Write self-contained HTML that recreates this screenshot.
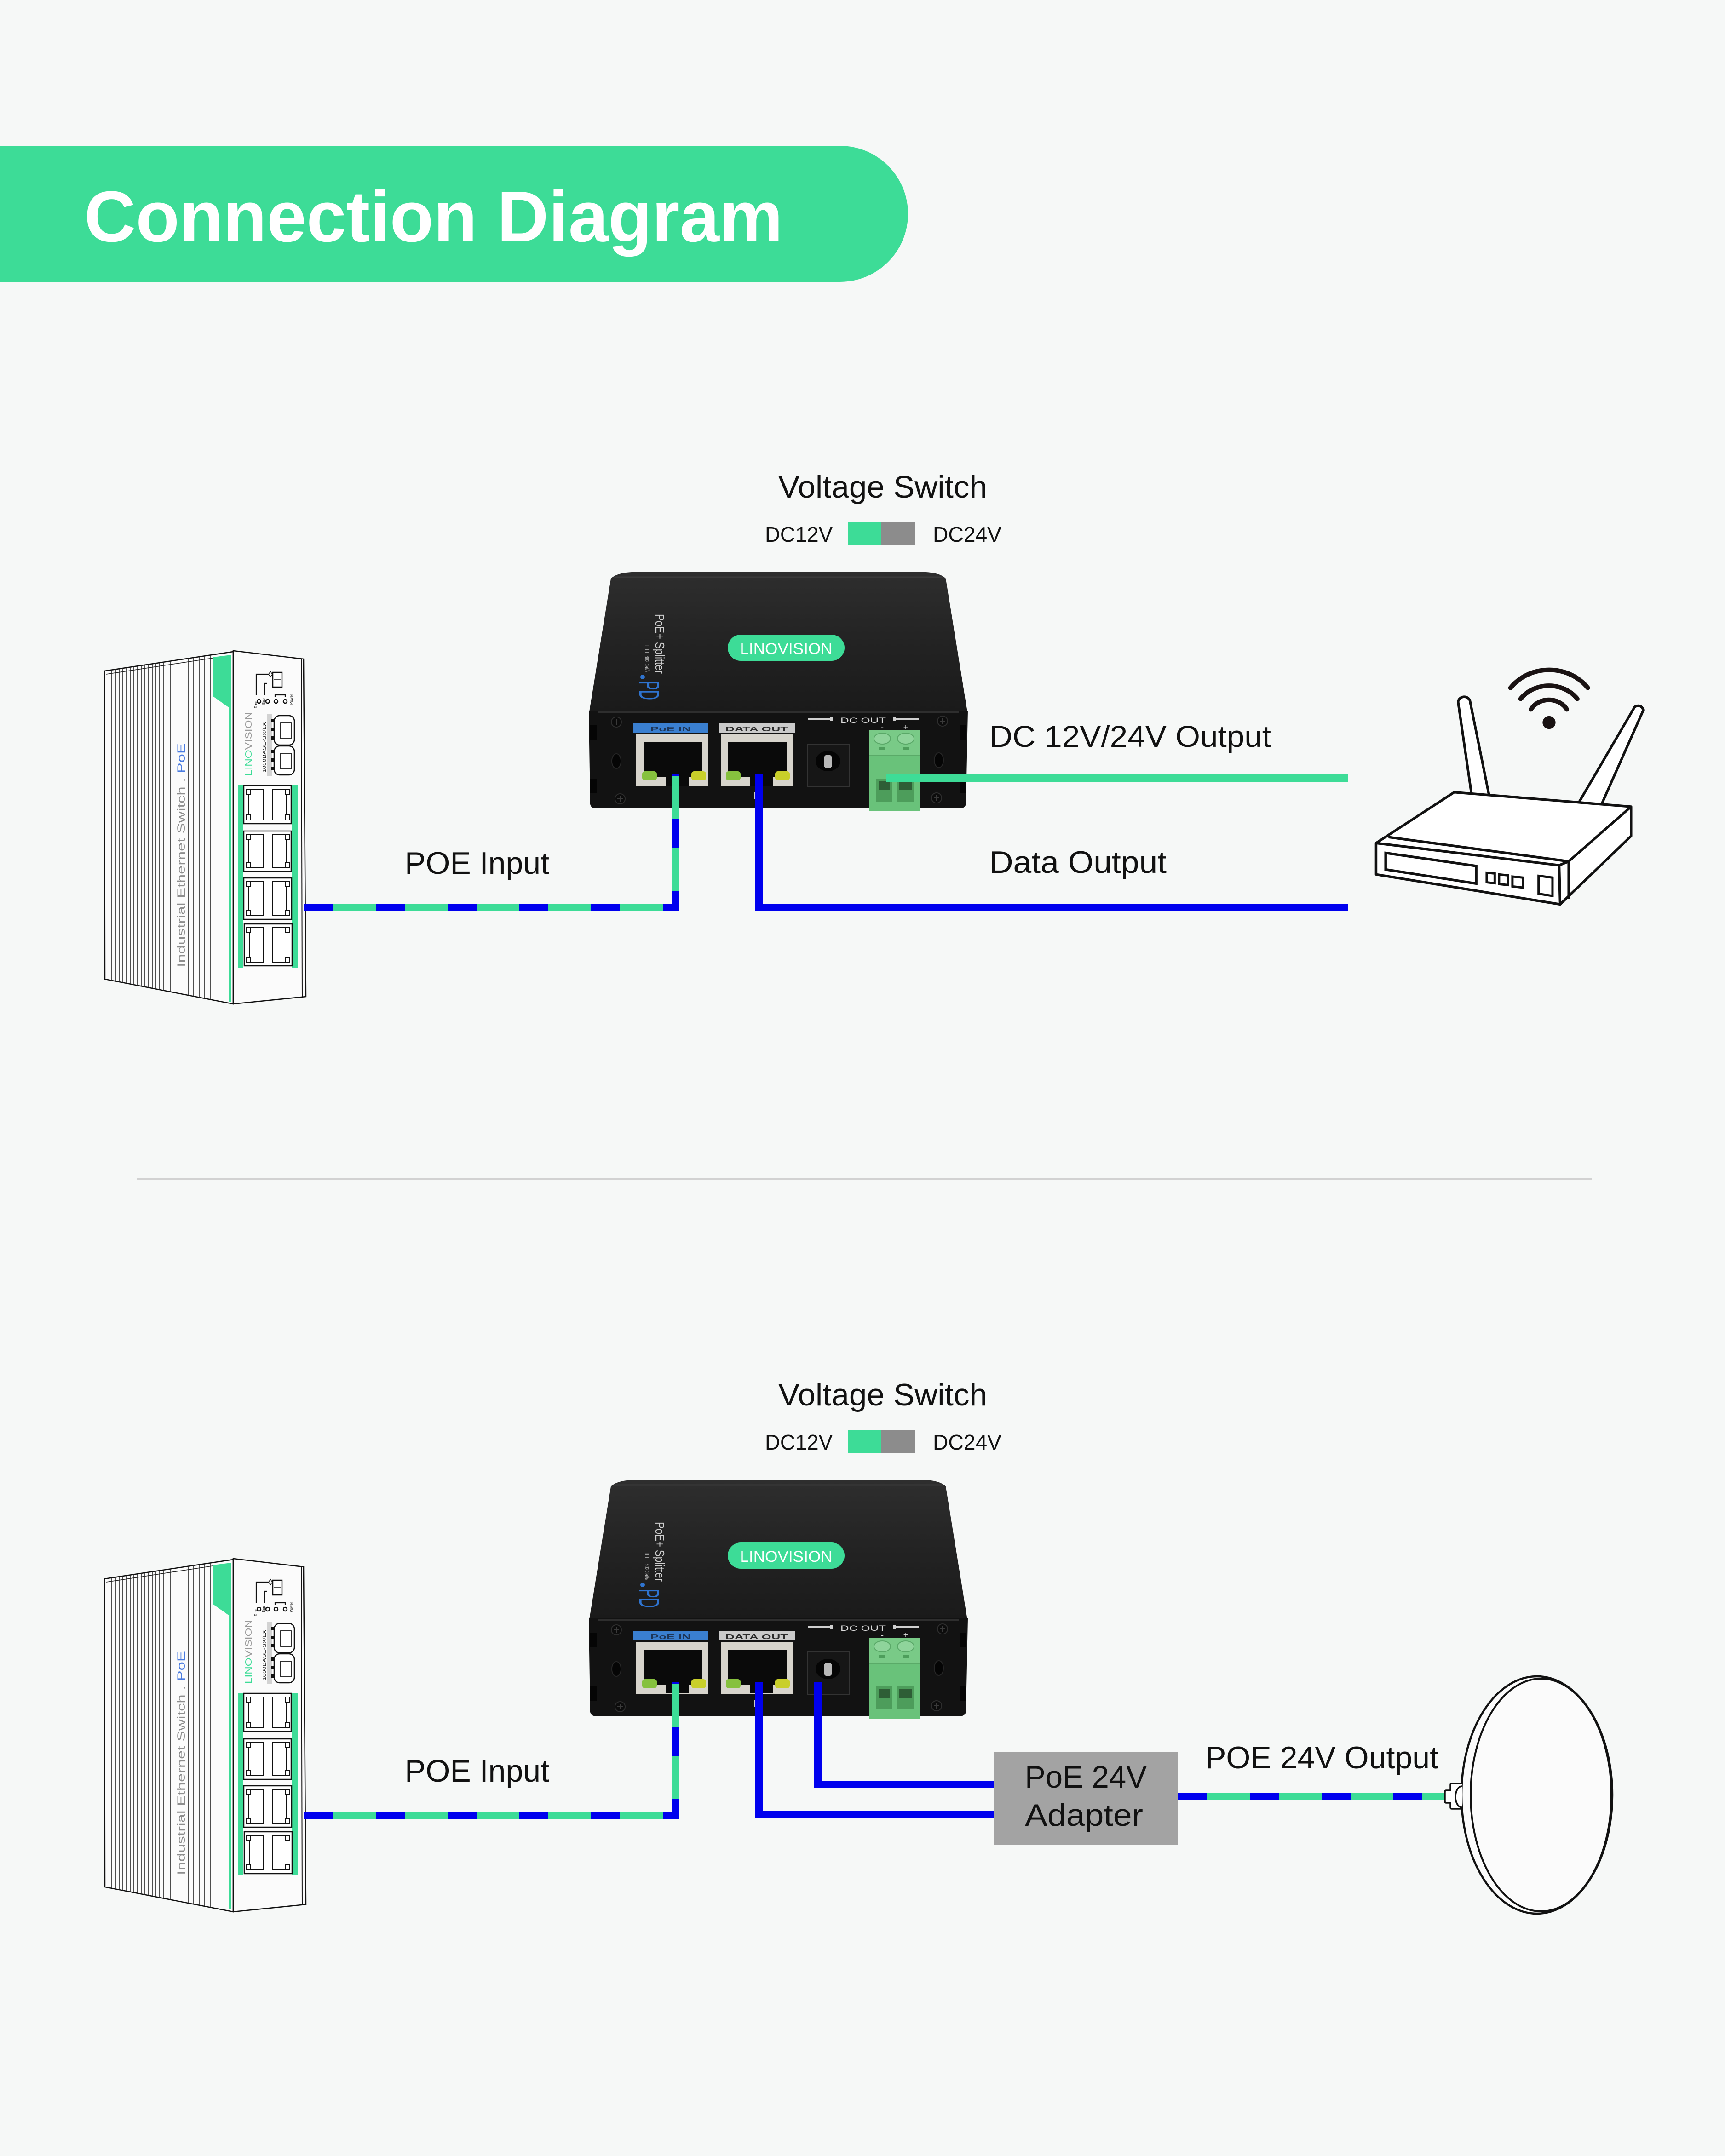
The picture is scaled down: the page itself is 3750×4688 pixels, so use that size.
<!DOCTYPE html>
<html><head><meta charset="utf-8"><style>
html,body{margin:0;padding:0;background:#f6f8f7;}
svg{display:block;}
text{font-family:"Liberation Sans",sans-serif;}
</style></head><body>
<svg width="3750" height="4688" viewBox="0 0 3750 4688" xmlns="http://www.w3.org/2000/svg">
<defs>
<linearGradient id="topg" x1="0" y1="0" x2="0" y2="1">
<stop offset="0" stop-color="#2e2e2e"/><stop offset="0.5" stop-color="#232323"/><stop offset="1" stop-color="#1a1a1a"/>
</linearGradient>
<clipPath id="lp"><polygon points="227,1459 507,1417 507,2183 228,2129"/></clipPath>
</defs>
<rect width="3750" height="4688" fill="#f6f8f7"/>

<!-- Header banner -->
<path d="M0,317 H1826 A148,148 0 0 1 1826,613 H0 Z" fill="#3ddc97"/>
<text x="183" y="525" font-size="157" font-weight="bold" fill="#ffffff" textLength="1519" lengthAdjust="spacingAndGlyphs">Connection Diagram</text>

<!-- Separator -->
<rect x="298" y="2562" width="3162" height="3" fill="#d2d2d2"/>

<!-- ================= COMMON BLOCK (upper) ================= -->
<g id="upper">
<!-- Voltage switch -->
<text x="1692" y="1082" font-size="68" fill="#111" textLength="454" lengthAdjust="spacingAndGlyphs">Voltage Switch</text>
<text x="1663" y="1178" font-size="46" fill="#111" textLength="147" lengthAdjust="spacingAndGlyphs">DC12V</text>
<rect x="1843" y="1136" width="73" height="50" fill="#3ddc97"/>
<rect x="1916" y="1136" width="73" height="50" fill="#8c8c8c"/>
<text x="2028" y="1178" font-size="46" fill="#111" textLength="149" lengthAdjust="spacingAndGlyphs">DC24V</text>

<!-- Switch -->
<polygon points="227,1459 507,1417 507,2183 228,2129" fill="#fbfbfb" stroke="#111" stroke-width="2.5"/>
<g clip-path="url(#lp)" stroke="#222" stroke-width="1.6" fill="none">
<path d="M243 1400V2200M251 1400V2200M259 1400V2200M267 1400V2200M275 1400V2200M283 1400V2200M291 1400V2200M299 1400V2200M307 1400V2200M315 1400V2200M323 1400V2200M331 1400V2200M339 1400V2200M347 1400V2200M355 1400V2200M363 1400V2200M371 1400V2200M409 1400V2200M421 1400V2200M433 1400V2200M445 1400V2200M457 1400V2200"/>
</g>
<line x1="231" y1="1466" x2="462" y2="1431" stroke="#222" stroke-width="1.6"/>
<polygon points="463,1429 503,1424 503,2178 498,2178 497,1538 463,1514" fill="#3ddc97"/>
<text transform="translate(402,2103) rotate(-90)" font-size="24" fill="#8d8d8d" textLength="487" lengthAdjust="spacingAndGlyphs">Industrial Ethernet Switch . <tspan fill="#4a7be0">PoE</tspan></text>
<polygon points="507,1415 660,1433 665,2167 507,2183" fill="#fbfbfb" stroke="#111" stroke-width="2.5"/>
<line x1="513" y1="1420" x2="513" y2="2180" stroke="#111" stroke-width="2"/>
<line x1="655" y1="1433" x2="657" y2="2167" stroke="#111" stroke-width="2"/>
<!-- indicators -->
<path d="M557,1512 V1466 H585 M575,1512 V1486 H581 M598,1515 V1511 H620 V1515" fill="none" stroke="#111" stroke-width="2.2"/>
<path d="M588,1460 L592,1466 L588,1472 L584,1466 Z" fill="#fff" stroke="#111" stroke-width="1.5"/>
<rect x="593" y="1462" width="20" height="32" fill="#fff" stroke="#111" stroke-width="2.5"/>
<line x1="595" y1="1478" x2="611" y2="1478" stroke="#111" stroke-width="1.5"/>
<circle cx="563" cy="1525" r="4" fill="none" stroke="#111" stroke-width="2.5"/>
<circle cx="582" cy="1525" r="4" fill="none" stroke="#111" stroke-width="2.5"/>
<circle cx="600" cy="1525" r="4" fill="none" stroke="#111" stroke-width="2.5"/>
<circle cx="620" cy="1525" r="4" fill="none" stroke="#111" stroke-width="2.5"/>
<text transform="translate(559,1540) rotate(-90)" font-size="8" fill="#111">Ring</text>
<text transform="translate(576,1532) rotate(-90)" font-size="8" fill="#111">Bsp</text>
<text transform="translate(636,1532) rotate(-90)" font-size="8" fill="#111">Power</text>
<text transform="translate(547,1687) rotate(-90)" font-size="20" fill="#9a9a9a" textLength="139" lengthAdjust="spacingAndGlyphs"><tspan fill="#3ddc97">LINO</tspan>VISION</text>
<rect x="580" y="1552" width="12" height="135" fill="#d3d3d3"/>
<text transform="translate(578,1680) rotate(-90)" font-size="10" fill="#111" textLength="110" lengthAdjust="spacingAndGlyphs">1000BASE-SX/LX</text>
<rect x="596" y="1556" width="44" height="64" rx="12" fill="#fff" stroke="#111" stroke-width="2.5"/>
<path d="M610,1572 H633 V1606 H610 Z" fill="none" stroke="#111" stroke-width="1.8"/>
<rect x="596" y="1622" width="44" height="63" rx="12" fill="#fff" stroke="#111" stroke-width="2.5"/>
<path d="M610,1638 H633 V1672 H610 Z" fill="none" stroke="#111" stroke-width="1.8"/>
<rect x="590" y="1564" width="6" height="7" fill="#111"/><rect x="590" y="1583" width="6" height="7" fill="#111"/><rect x="590" y="1601" width="6" height="7" fill="#111"/>
<rect x="590" y="1630" width="6" height="7" fill="#111"/><rect x="590" y="1649" width="6" height="7" fill="#111"/><rect x="590" y="1667" width="6" height="7" fill="#111"/>
<!-- port strips -->
<rect x="517" y="1707" width="11" height="397" fill="#3ddc97"/>
<rect x="635" y="1707" width="12" height="397" fill="#3ddc97"/>
<!-- port blocks -->
<g fill="#fff" stroke="#111">
<rect x="530" y="1708" width="103" height="83" stroke-width="2.5"/>
<rect x="530" y="1807" width="103" height="88" stroke-width="2.5"/>
<rect x="530" y="1909" width="104" height="90" stroke-width="2.5"/>
<rect x="531" y="2009" width="104" height="91" stroke-width="2.5"/>
</g>
<g fill="none" stroke="#111" stroke-width="2">
<rect x="541" y="1716" width="31" height="67"/><rect x="592" y="1716" width="31" height="67"/>
<rect x="541" y="1815" width="31" height="72"/><rect x="592" y="1815" width="31" height="72"/>
<rect x="541" y="1917" width="31" height="74"/><rect x="592" y="1917" width="31" height="74"/>
<rect x="542" y="2017" width="31" height="75"/><rect x="593" y="2017" width="31" height="75"/>
</g>
<g fill="#fff" stroke="#111" stroke-width="2">
<rect x="535" y="1716" width="9" height="11"/><rect x="535" y="1772" width="9" height="11"/><rect x="620" y="1716" width="9" height="11"/><rect x="620" y="1772" width="9" height="11"/>
<rect x="535" y="1815" width="9" height="11"/><rect x="535" y="1876" width="9" height="11"/><rect x="620" y="1815" width="9" height="11"/><rect x="620" y="1876" width="9" height="11"/>
<rect x="535" y="1917" width="9" height="11"/><rect x="535" y="1980" width="9" height="11"/><rect x="620" y="1917" width="9" height="11"/><rect x="620" y="1980" width="9" height="11"/>
<rect x="536" y="2017" width="9" height="11"/><rect x="536" y="2081" width="9" height="11"/><rect x="621" y="2017" width="9" height="11"/><rect x="621" y="2081" width="9" height="11"/>
</g>

<!-- Splitter device -->
<path d="M1373,1244 L2013,1244 Q2045,1246 2056,1258 L2103,1548 L1281,1548 L1328,1258 Q1340,1246 1373,1244 Z" fill="url(#topg)"/>
<path d="M1335,1255 L2050,1255" stroke="#3a3a3a" stroke-width="3"/>
<path d="M1280,1545 L2104,1545 L2100,1748 Q2098,1758 2085,1758 L1298,1758 Q1284,1758 1283,1748 Z" fill="#121212"/>
<rect x="1300" y="1547" width="784" height="4" fill="#2e2e2e"/>
<rect x="1283" y="1576" width="14" height="32" fill="#050505"/>
<rect x="1283" y="1693" width="14" height="32" fill="#050505"/>
<rect x="2086" y="1576" width="14" height="32" fill="#050505"/>
<rect x="2086" y="1693" width="14" height="32" fill="#050505"/>
<rect x="1582" y="1380" width="254" height="57" rx="28.5" fill="#3ddc97"/>
<text x="1709" y="1422" font-size="34" fill="#ffffff" text-anchor="middle" textLength="201" lengthAdjust="spacingAndGlyphs">LINOVISION</text>
<text transform="translate(1425,1335) rotate(90)" font-size="28" fill="#cfcfcf" textLength="130" lengthAdjust="spacingAndGlyphs">PoE+ Splitter</text>
<text transform="translate(1402,1403) rotate(90)" font-size="13" fill="#bdbdbd" textLength="62" lengthAdjust="spacingAndGlyphs">IEEE 802.3af/at</text>
<circle cx="1397" cy="1472" r="5" fill="#2f74d0"/>
<text transform="translate(1390,1481) rotate(90)" font-size="62" fill="#2f74d0" textLength="41" lengthAdjust="spacingAndGlyphs">PD</text>
<!-- screws and holes -->
<g fill="#0c0c0c" stroke="#2e2e2e" stroke-width="2">
<circle cx="1340" cy="1570" r="11"/><circle cx="2049" cy="1568" r="11"/><circle cx="1348" cy="1737" r="11"/><circle cx="2036" cy="1735" r="11"/>
</g>
<path d="M1334,1570h12M1340,1564v12M2043,1568h12M2049,1562v12M1342,1737h12M1348,1731v12M2030,1735h12M2036,1729v12" stroke="#3a3a3a" stroke-width="2"/>
<ellipse cx="1340" cy="1655" rx="10" ry="16" fill="#050505" stroke="#262626" stroke-width="2"/>
<ellipse cx="2041" cy="1653" rx="10" ry="16" fill="#050505" stroke="#262626" stroke-width="2"/>
<!-- labels -->
<rect x="1376" y="1573" width="164" height="20" fill="#3a7fd0"/>
<text x="1458" y="1590" font-size="15" font-weight="bold" fill="#1d3557" text-anchor="middle" textLength="88" lengthAdjust="spacingAndGlyphs">PoE IN</text>
<rect x="1563" y="1573" width="165" height="20" fill="#cacaca"/>
<text x="1645" y="1590" font-size="15" font-weight="bold" fill="#2a2a2a" text-anchor="middle" textLength="136" lengthAdjust="spacingAndGlyphs">DATA OUT</text>
<!-- ports -->
<rect x="1382" y="1596" width="158" height="114" fill="#d7d4cc"/>
<rect x="1399" y="1613" width="128" height="77" fill="#0a0a0a"/>
<rect x="1447" y="1680" width="50" height="28" fill="#0a0a0a"/>
<rect x="1396" y="1677" width="32" height="20" rx="6" fill="#86c13e"/>
<rect x="1503" y="1677" width="32" height="20" rx="6" fill="#c9cf2a"/>
<rect x="1567" y="1596" width="158" height="114" fill="#d7d4cc"/>
<rect x="1583" y="1613" width="128" height="77" fill="#0a0a0a"/>
<rect x="1630" y="1680" width="50" height="28" fill="#0a0a0a"/>
<rect x="1578" y="1677" width="32" height="20" rx="6" fill="#86c13e"/>
<rect x="1685" y="1677" width="32" height="20" rx="6" fill="#c9cf2a"/>
<rect x="1639" y="1722" width="12" height="16" fill="#cfcfcf"/>
<!-- DC jack -->
<rect x="1755" y="1618" width="91" height="92" fill="#161616" stroke="#333" stroke-width="2"/>
<ellipse cx="1800" cy="1655" rx="27" ry="22" fill="#050505"/>
<rect x="1791" y="1641" width="18" height="30" rx="8" fill="#b8b8b8"/>
<!-- DC OUT -->
<text x="1827" y="1572" font-size="17" fill="#dcdcdc" textLength="99" lengthAdjust="spacingAndGlyphs">DC OUT</text>
<rect x="1757" y="1562" width="50" height="3" fill="#cfcfcf"/><rect x="1804" y="1559" width="6" height="9" fill="#cfcfcf"/>
<rect x="1942" y="1559" width="6" height="9" fill="#cfcfcf"/><rect x="1946" y="1562" width="52" height="3" fill="#cfcfcf"/>
<text x="1918" y="1587" font-size="18" fill="#dcdcdc" text-anchor="middle">-</text>
<text x="1969" y="1587" font-size="18" fill="#dcdcdc" text-anchor="middle">+</text>
<!-- terminal block -->
<rect x="1890" y="1588" width="110" height="175" fill="#69c27a"/>
<rect x="1890" y="1588" width="110" height="55" fill="#79ca87"/>
<line x1="1890" y1="1643" x2="2000" y2="1643" stroke="#5aaa68" stroke-width="2"/>
<ellipse cx="1918" cy="1606" rx="18" ry="12" fill="#8fd49b" stroke="#5aa868" stroke-width="2"/>
<ellipse cx="1969" cy="1606" rx="18" ry="12" fill="#8fd49b" stroke="#5aa868" stroke-width="2"/>
<rect x="1911" y="1625" width="14" height="6" fill="#4e9e5c"/><rect x="1962" y="1625" width="14" height="6" fill="#4e9e5c"/>
<rect x="1905" y="1693" width="35" height="50" fill="#4d9d5b"/><rect x="1950" y="1693" width="38" height="50" fill="#4d9d5b"/>
<rect x="1910" y="1698" width="25" height="20" fill="#2e5e36"/><rect x="1955" y="1698" width="28" height="20" fill="#2e5e36"/>

<!-- POE input line -->
<path d="M661,1973 H1468 V1683" stroke="#3ddc97" stroke-width="16" fill="none"/>
<path d="M661,1973 H1468 V1683" stroke="#0000ee" stroke-width="16" fill="none" stroke-dasharray="63 93"/>
<text x="880" y="1900" font-size="68" fill="#111" textLength="314" lengthAdjust="spacingAndGlyphs">POE Input</text>
</g>

<!-- ================= Upper specific ================= -->
<path d="M1650,1683 V1973 H2931" stroke="#0000ee" stroke-width="16" fill="none"/>
<path d="M1926,1692 H2931" stroke="#3ddc97" stroke-width="16" fill="none"/>
<text x="2151" y="1624" font-size="66" fill="#111" textLength="612" lengthAdjust="spacingAndGlyphs">DC 12V/24V Output</text>
<text x="2151" y="1898" font-size="68" fill="#111" textLength="385" lengthAdjust="spacingAndGlyphs">Data Output</text>

<!-- Router -->
<g transform="translate(2950 1400) scale(0.41459 0.38270)" fill="none" stroke="#111">
<path d="M600,850 L530,330 A32,32 0 0 1 592,322 L692,858" fill="#fff" stroke-width="5.5" vector-effect="non-scaling-stroke"/>
<path d="M1165,898 L1455,360 A26,26 0 0 1 1500,380 L1285,905" fill="#fff" stroke-width="5.5" vector-effect="non-scaling-stroke"/>
<path d="M100,1132 L510,843 L1437,925 L1437,1092 L1065,1480 L100,1310 Z" fill="#fff" stroke-width="5.5" vector-effect="non-scaling-stroke" stroke-linejoin="round"/>
<path d="M165,1098 L1110,1236 L1437,925 M100,1132 L1060,1258 L1110,1236 M1060,1258 L1065,1480 M1110,1236 L1110,1450" stroke-width="5.5" vector-effect="non-scaling-stroke"/>
<path d="M150,1188 L625,1262 L625,1362 L150,1282 Z" stroke-width="5.5" vector-effect="non-scaling-stroke"/>
<path d="M680,1300 L722,1305 L722,1360 L680,1355 Z M745,1310 L790,1315 L790,1370 L745,1365 Z M815,1322 L870,1328 L870,1385 L815,1378 Z M952,1318 L1025,1328 L1025,1432 L952,1420 Z" stroke-width="5" vector-effect="non-scaling-stroke"/>
<path d="M912,372 A109,109 0 0 1 1100,372 M858,312 A186,186 0 0 1 1155,312 M805,250 A252,252 0 0 1 1210,250" stroke="#1a1313" stroke-width="10" stroke-linecap="round" vector-effect="non-scaling-stroke"/>
<ellipse cx="1007" cy="447" rx="34" ry="37" fill="#1a1313" stroke="none"/>
</g>

<!-- ================= Lower section ================= -->
<g transform="translate(0,1974)">
<text x="1692" y="1082" font-size="68" fill="#111" textLength="454" lengthAdjust="spacingAndGlyphs">Voltage Switch</text>
<text x="1663" y="1178" font-size="46" fill="#111" textLength="147" lengthAdjust="spacingAndGlyphs">DC12V</text>
<rect x="1843" y="1136" width="73" height="50" fill="#3ddc97"/>
<rect x="1916" y="1136" width="73" height="50" fill="#8c8c8c"/>
<text x="2028" y="1178" font-size="46" fill="#111" textLength="149" lengthAdjust="spacingAndGlyphs">DC24V</text>

<polygon points="227,1459 507,1417 507,2183 228,2129" fill="#fbfbfb" stroke="#111" stroke-width="2.5"/>
<g clip-path="url(#lp)" stroke="#222" stroke-width="1.6" fill="none">
<path d="M243 1400V2200M251 1400V2200M259 1400V2200M267 1400V2200M275 1400V2200M283 1400V2200M291 1400V2200M299 1400V2200M307 1400V2200M315 1400V2200M323 1400V2200M331 1400V2200M339 1400V2200M347 1400V2200M355 1400V2200M363 1400V2200M371 1400V2200M409 1400V2200M421 1400V2200M433 1400V2200M445 1400V2200M457 1400V2200"/>
</g>
<line x1="231" y1="1466" x2="462" y2="1431" stroke="#222" stroke-width="1.6"/>
<polygon points="463,1429 503,1424 503,2178 498,2178 497,1538 463,1514" fill="#3ddc97"/>
<text transform="translate(402,2103) rotate(-90)" font-size="24" fill="#8d8d8d" textLength="487" lengthAdjust="spacingAndGlyphs">Industrial Ethernet Switch . <tspan fill="#4a7be0">PoE</tspan></text>
<polygon points="507,1415 660,1433 665,2167 507,2183" fill="#fbfbfb" stroke="#111" stroke-width="2.5"/>
<line x1="513" y1="1420" x2="513" y2="2180" stroke="#111" stroke-width="2"/>
<line x1="655" y1="1433" x2="657" y2="2167" stroke="#111" stroke-width="2"/>
<path d="M557,1512 V1466 H585 M575,1512 V1486 H581 M598,1515 V1511 H620 V1515" fill="none" stroke="#111" stroke-width="2.2"/>
<path d="M588,1460 L592,1466 L588,1472 L584,1466 Z" fill="#fff" stroke="#111" stroke-width="1.5"/>
<rect x="593" y="1462" width="20" height="32" fill="#fff" stroke="#111" stroke-width="2.5"/>
<line x1="595" y1="1478" x2="611" y2="1478" stroke="#111" stroke-width="1.5"/>
<circle cx="563" cy="1525" r="4" fill="none" stroke="#111" stroke-width="2.5"/>
<circle cx="582" cy="1525" r="4" fill="none" stroke="#111" stroke-width="2.5"/>
<circle cx="600" cy="1525" r="4" fill="none" stroke="#111" stroke-width="2.5"/>
<circle cx="620" cy="1525" r="4" fill="none" stroke="#111" stroke-width="2.5"/>
<text transform="translate(559,1540) rotate(-90)" font-size="8" fill="#111">Ring</text>
<text transform="translate(576,1532) rotate(-90)" font-size="8" fill="#111">Bsp</text>
<text transform="translate(636,1532) rotate(-90)" font-size="8" fill="#111">Power</text>
<text transform="translate(547,1687) rotate(-90)" font-size="20" fill="#9a9a9a" textLength="139" lengthAdjust="spacingAndGlyphs"><tspan fill="#3ddc97">LINO</tspan>VISION</text>
<rect x="580" y="1552" width="12" height="135" fill="#d3d3d3"/>
<text transform="translate(578,1680) rotate(-90)" font-size="10" fill="#111" textLength="110" lengthAdjust="spacingAndGlyphs">1000BASE-SX/LX</text>
<rect x="596" y="1556" width="44" height="64" rx="12" fill="#fff" stroke="#111" stroke-width="2.5"/>
<path d="M610,1572 H633 V1606 H610 Z" fill="none" stroke="#111" stroke-width="1.8"/>
<rect x="596" y="1622" width="44" height="63" rx="12" fill="#fff" stroke="#111" stroke-width="2.5"/>
<path d="M610,1638 H633 V1672 H610 Z" fill="none" stroke="#111" stroke-width="1.8"/>
<rect x="590" y="1564" width="6" height="7" fill="#111"/><rect x="590" y="1583" width="6" height="7" fill="#111"/><rect x="590" y="1601" width="6" height="7" fill="#111"/>
<rect x="590" y="1630" width="6" height="7" fill="#111"/><rect x="590" y="1649" width="6" height="7" fill="#111"/><rect x="590" y="1667" width="6" height="7" fill="#111"/>
<rect x="517" y="1707" width="11" height="397" fill="#3ddc97"/>
<rect x="635" y="1707" width="12" height="397" fill="#3ddc97"/>
<g fill="#fff" stroke="#111">
<rect x="530" y="1708" width="103" height="83" stroke-width="2.5"/>
<rect x="530" y="1807" width="103" height="88" stroke-width="2.5"/>
<rect x="530" y="1909" width="104" height="90" stroke-width="2.5"/>
<rect x="531" y="2009" width="104" height="91" stroke-width="2.5"/>
</g>
<g fill="none" stroke="#111" stroke-width="2">
<rect x="541" y="1716" width="31" height="67"/><rect x="592" y="1716" width="31" height="67"/>
<rect x="541" y="1815" width="31" height="72"/><rect x="592" y="1815" width="31" height="72"/>
<rect x="541" y="1917" width="31" height="74"/><rect x="592" y="1917" width="31" height="74"/>
<rect x="542" y="2017" width="31" height="75"/><rect x="593" y="2017" width="31" height="75"/>
</g>
<g fill="#fff" stroke="#111" stroke-width="2">
<rect x="535" y="1716" width="9" height="11"/><rect x="535" y="1772" width="9" height="11"/><rect x="620" y="1716" width="9" height="11"/><rect x="620" y="1772" width="9" height="11"/>
<rect x="535" y="1815" width="9" height="11"/><rect x="535" y="1876" width="9" height="11"/><rect x="620" y="1815" width="9" height="11"/><rect x="620" y="1876" width="9" height="11"/>
<rect x="535" y="1917" width="9" height="11"/><rect x="535" y="1980" width="9" height="11"/><rect x="620" y="1917" width="9" height="11"/><rect x="620" y="1980" width="9" height="11"/>
<rect x="536" y="2017" width="9" height="11"/><rect x="536" y="2081" width="9" height="11"/><rect x="621" y="2017" width="9" height="11"/><rect x="621" y="2081" width="9" height="11"/>
</g>

<path d="M1373,1244 L2013,1244 Q2045,1246 2056,1258 L2103,1548 L1281,1548 L1328,1258 Q1340,1246 1373,1244 Z" fill="url(#topg)"/>
<path d="M1335,1255 L2050,1255" stroke="#3a3a3a" stroke-width="3"/>
<path d="M1280,1545 L2104,1545 L2100,1748 Q2098,1758 2085,1758 L1298,1758 Q1284,1758 1283,1748 Z" fill="#121212"/>
<rect x="1300" y="1547" width="784" height="4" fill="#2e2e2e"/>
<rect x="1283" y="1576" width="14" height="32" fill="#050505"/>
<rect x="1283" y="1693" width="14" height="32" fill="#050505"/>
<rect x="2086" y="1576" width="14" height="32" fill="#050505"/>
<rect x="2086" y="1693" width="14" height="32" fill="#050505"/>
<rect x="1582" y="1380" width="254" height="57" rx="28.5" fill="#3ddc97"/>
<text x="1709" y="1422" font-size="34" fill="#ffffff" text-anchor="middle" textLength="201" lengthAdjust="spacingAndGlyphs">LINOVISION</text>
<text transform="translate(1425,1335) rotate(90)" font-size="28" fill="#cfcfcf" textLength="130" lengthAdjust="spacingAndGlyphs">PoE+ Splitter</text>
<text transform="translate(1402,1403) rotate(90)" font-size="13" fill="#bdbdbd" textLength="62" lengthAdjust="spacingAndGlyphs">IEEE 802.3af/at</text>
<circle cx="1397" cy="1472" r="5" fill="#2f74d0"/>
<text transform="translate(1390,1481) rotate(90)" font-size="62" fill="#2f74d0" textLength="41" lengthAdjust="spacingAndGlyphs">PD</text>
<g fill="#0c0c0c" stroke="#2e2e2e" stroke-width="2">
<circle cx="1340" cy="1570" r="11"/><circle cx="2049" cy="1568" r="11"/><circle cx="1348" cy="1737" r="11"/><circle cx="2036" cy="1735" r="11"/>
</g>
<path d="M1334,1570h12M1340,1564v12M2043,1568h12M2049,1562v12M1342,1737h12M1348,1731v12M2030,1735h12M2036,1729v12" stroke="#3a3a3a" stroke-width="2"/>
<ellipse cx="1340" cy="1655" rx="10" ry="16" fill="#050505" stroke="#262626" stroke-width="2"/>
<ellipse cx="2041" cy="1653" rx="10" ry="16" fill="#050505" stroke="#262626" stroke-width="2"/>
<rect x="1376" y="1573" width="164" height="20" fill="#3a7fd0"/>
<text x="1458" y="1590" font-size="15" font-weight="bold" fill="#1d3557" text-anchor="middle" textLength="88" lengthAdjust="spacingAndGlyphs">PoE IN</text>
<rect x="1563" y="1573" width="165" height="20" fill="#cacaca"/>
<text x="1645" y="1590" font-size="15" font-weight="bold" fill="#2a2a2a" text-anchor="middle" textLength="136" lengthAdjust="spacingAndGlyphs">DATA OUT</text>
<rect x="1382" y="1596" width="158" height="114" fill="#d7d4cc"/>
<rect x="1399" y="1613" width="128" height="77" fill="#0a0a0a"/>
<rect x="1447" y="1680" width="50" height="28" fill="#0a0a0a"/>
<rect x="1396" y="1677" width="32" height="20" rx="6" fill="#86c13e"/>
<rect x="1503" y="1677" width="32" height="20" rx="6" fill="#c9cf2a"/>
<rect x="1567" y="1596" width="158" height="114" fill="#d7d4cc"/>
<rect x="1583" y="1613" width="128" height="77" fill="#0a0a0a"/>
<rect x="1630" y="1680" width="50" height="28" fill="#0a0a0a"/>
<rect x="1578" y="1677" width="32" height="20" rx="6" fill="#86c13e"/>
<rect x="1685" y="1677" width="32" height="20" rx="6" fill="#c9cf2a"/>
<rect x="1639" y="1722" width="12" height="16" fill="#cfcfcf"/>
<rect x="1755" y="1618" width="91" height="92" fill="#161616" stroke="#333" stroke-width="2"/>
<ellipse cx="1800" cy="1655" rx="27" ry="22" fill="#050505"/>
<rect x="1791" y="1641" width="18" height="30" rx="8" fill="#b8b8b8"/>
<text x="1827" y="1572" font-size="17" fill="#dcdcdc" textLength="99" lengthAdjust="spacingAndGlyphs">DC OUT</text>
<rect x="1757" y="1562" width="50" height="3" fill="#cfcfcf"/><rect x="1804" y="1559" width="6" height="9" fill="#cfcfcf"/>
<rect x="1942" y="1559" width="6" height="9" fill="#cfcfcf"/><rect x="1946" y="1562" width="52" height="3" fill="#cfcfcf"/>
<text x="1918" y="1587" font-size="18" fill="#dcdcdc" text-anchor="middle">-</text>
<text x="1969" y="1587" font-size="18" fill="#dcdcdc" text-anchor="middle">+</text>
<rect x="1890" y="1588" width="110" height="175" fill="#69c27a"/>
<rect x="1890" y="1588" width="110" height="55" fill="#79ca87"/>
<line x1="1890" y1="1643" x2="2000" y2="1643" stroke="#5aaa68" stroke-width="2"/>
<ellipse cx="1918" cy="1606" rx="18" ry="12" fill="#8fd49b" stroke="#5aa868" stroke-width="2"/>
<ellipse cx="1969" cy="1606" rx="18" ry="12" fill="#8fd49b" stroke="#5aa868" stroke-width="2"/>
<rect x="1911" y="1625" width="14" height="6" fill="#4e9e5c"/><rect x="1962" y="1625" width="14" height="6" fill="#4e9e5c"/>
<rect x="1905" y="1693" width="35" height="50" fill="#4d9d5b"/><rect x="1950" y="1693" width="38" height="50" fill="#4d9d5b"/>
<rect x="1910" y="1698" width="25" height="20" fill="#2e5e36"/><rect x="1955" y="1698" width="28" height="20" fill="#2e5e36"/>

<path d="M661,1973 H1468 V1683" stroke="#3ddc97" stroke-width="16" fill="none"/>
<path d="M661,1973 H1468 V1683" stroke="#0000ee" stroke-width="16" fill="none" stroke-dasharray="63 93"/>
<text x="880" y="1900" font-size="68" fill="#111" textLength="314" lengthAdjust="spacingAndGlyphs">POE Input</text>
</g>

<!-- Lower specific -->
<path d="M1778,3657 V3880 H2161" stroke="#0000ee" stroke-width="16" fill="none"/>
<path d="M1650,3657 V3946 H2161" stroke="#0000ee" stroke-width="16" fill="none"/>
<rect x="2161" y="3810" width="400" height="202" fill="#a3a3a3"/>
<text x="2228" y="3887" font-size="68" fill="#111" textLength="265" lengthAdjust="spacingAndGlyphs">PoE 24V</text>
<text x="2228" y="3970" font-size="68" fill="#111" textLength="257" lengthAdjust="spacingAndGlyphs">Adapter</text>
<path d="M2561,3906 H3142" stroke="#3ddc97" stroke-width="16" fill="none"/>
<path d="M2561,3906 H3142" stroke="#0000ee" stroke-width="16" fill="none" stroke-dasharray="63 93"/>
<text x="2620" y="3845" font-size="68" fill="#111" textLength="507" lengthAdjust="spacingAndGlyphs">POE 24V Output</text>
<!-- Dish -->
<ellipse cx="3341" cy="3903" rx="164" ry="258" fill="#fbfbfb" stroke="#111" stroke-width="4.5"/>
<ellipse cx="3350" cy="3903" rx="153" ry="253" fill="none" stroke="#111" stroke-width="4"/>
<path d="M3178,3878 H3156 Q3153,3878 3153,3881 V3893 H3144 Q3141,3893 3141,3896 V3917 Q3141,3920 3144,3920 H3153 V3930 Q3153,3933 3156,3933 H3178" fill="#fff" stroke="#111" stroke-width="3.5"/>
<path d="M3178,3884 A14,23 0 0 0 3178,3930" fill="none" stroke="#111" stroke-width="3.5"/>
</svg>
</body></html>
